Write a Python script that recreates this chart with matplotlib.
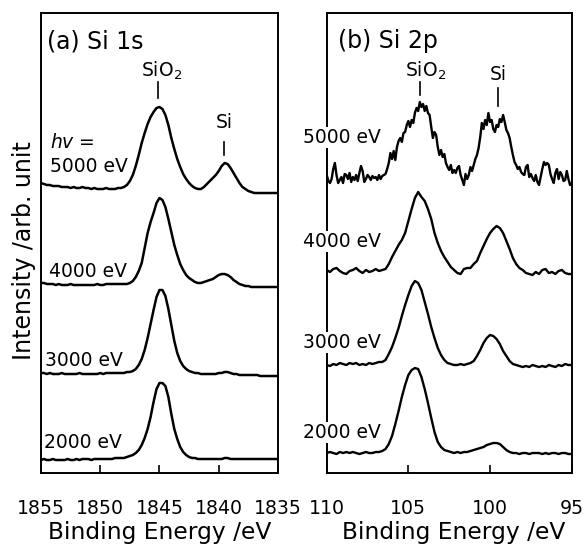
import numpy as np
import matplotlib
matplotlib.use('Agg')
import matplotlib.pyplot as plt

# photon energies (labels), top to bottom
hv_labels = ['5000 eV', '4000 eV', '3000 eV', '2000 eV']

# ---- (a) Si 1s: relative intensity,
# sampled every 0.25 eV starting at 1855 eV
si1s_start, si1s_step = 1855.0, 0.25
si1s_i = [
    [5, 4, 3, 3, 2, 2, 2, 1, 1, 1, 0, 1, 0, 0, 1, 0, 0, -1, 0, -1, -1, -1, 0, -1, -1, -1, 0, 0, 1,
     3, 7, 13, 22, 33, 45, 55, 64, 71, 76, 80, 81, 79, 73, 63, 50, 39, 29, 21, 14, 9, 5, 2, 0, -1,
     -1, 1, 4, 7, 10, 13, 17, 22, 25, 24, 20, 15, 10, 5, 1, -1, -3, -4, -5, -5, -5, -5, -5, -5, -5,
     -5, -5],
    [2, 2, 1, 1, 1, 0, 1, 0, 0, 0, 1, 0, 0, 0, 0, 0, 0, 0, 0, 1, 0, 0, 1, 1, 1, 1, 1, 1, 1, 1, 2, 4,
     8, 14, 22, 37, 52, 63, 72, 82, 87, 85, 78, 66, 53, 40, 30, 21, 15, 10, 7, 5, 3, 2, 2, 3, 4, 5,
     6, 8, 10, 11, 11, 10, 8, 5, 3, 1, 0, -1, -1, -2, -2, -2, -2, -2, -2, -2, -2, -2, -2],
    [1, 1, 0, 1, 0, 0, 0, 1, 0, 0, 0, 0, 0, 1, 0, 0, 0, 0, 0, 0, 1, 0, 1, 1, 1, 1, 1, 1, 1, 2, 2, 3,
     5, 9, 15, 24, 36, 50, 64, 77, 84, 84, 78, 65, 49, 33, 21, 13, 8, 5, 3, 2, 1, 1, 0, 0, 0, 0, 0,
     0, 1, 1, 2, 2, 1, 0, 0, -1, -1, -1, -1, -1, -1, -1, -2, -2, -2, -2, -2, -2, -2],
    [0, 1, 0, 0, 1, 0, 0, 0, 0, 1, 0, 0, 1, 0, 1, 1, 1, 0, 1, 1, 1, 1, 1, 1, 1, 2, 2, 2, 2, 3, 4, 5,
     7, 10, 15, 22, 31, 43, 58, 71, 77, 77, 74, 63, 46, 31, 21, 13, 8, 5, 3, 2, 2, 1, 1, 1, 1, 1, 1,
     1, 1, 1, 2, 2, 1, 1, 1, 1, 1, 1, 1, 1, 1, 1, 1, 1, 1, 1, 1, 1, 1],
]
si1s_offset = [285, 188, 99, 13]

# ---- (b) Si 2p: relative intensity starting at 110 eV
si2p_start = 110.0
si2p_step = [0.1, 0.2, 0.2, 0.2]
si2p_i = [
    [2, -4, -6, -2, 8, 14, 2, -6, -3, 0, -6, 3, 2, -2, 4, -5, 0, -3, 2, -4, 4, 11, 6, -5, -2, 2, 0,
     -3, 1, -1, 0, -3, 2, -2, 1, 2, 3, 8, 14, 24, 18, 26, 17, 30, 36, 39, 35, 44, 45, 52, 56, 50,
     57, 54, 64, 69, 66, 75, 70, 73, 66, 71, 64, 62, 50, 39, 45, 42, 30, 22, 27, 20, 23, 14, 10, 7,
     12, 4, 7, 4, 9, 11, 2, -3, -8, 3, -2, 2, 10, 6, 12, 18, 22, 29, 40, 54, 48, 57, 52, 64, 55, 57,
     48, 45, 52, 50, 58, 55, 62, 55, 47, 44, 39, 30, 22, 15, 12, 8, 10, 5, 3, 2, 10, 12, 0, 3, -1,
     -4, 2, -5, -8, 0, 8, 15, 12, 14, 12, 3, -2, -6, 4, 8, -2, 5, 2, -4, -3, 6, -2, -8, -6],
    [1, -1, 2, 3, 0, -2, -3, 0, 1, 3, 0, -2, 1, -1, 0, 2, 0, 1, 2, 7, 14, 20, 26, 31, 38, 50, 62,
     73, 79, 74, 70, 62, 52, 38, 28, 20, 14, 9, 4, 1, -2, -3, 2, 3, 3, 7, 10, 18, 25, 32, 38, 42,
     45, 43, 38, 30, 22, 13, 7, 3, 1, -2, -3, -4, -1, -3, 1, 2, -2, -1, -3, 0, 1, -2, -3, -3],
    [0, -1, 1, 0, 2, 1, 0, 2, 1, 2, 0, 1, 0, 2, 1, 2, 3, 3, 5, 11, 18, 27, 37, 49, 60, 70, 79, 84,
     82, 75, 63, 51, 38, 27, 17, 10, 5, 2, 1, 0, 0, 1, 0, 1, 2, 4, 9, 15, 22, 27, 30, 29, 26, 21,
     14, 9, 4, 1, 0, -1, -2, -1, -2, 0, -1, -2, -1, -2, 0, -1, -2, 0, -1, 1, 0, 0],
    [0, 1, 0, -1, 1, 0, 1, 0, 1, 0, -1, 0, 1, 0, 0, 1, 1, 2, 4, 9, 17, 29, 42, 56, 68, 78, 83, 85,
     84, 76, 64, 50, 35, 21, 11, 6, 3, 2, 1, 0, 1, 0, 1, 1, 2, 3, 4, 5, 6, 8, 9, 10, 10, 9, 6, 3, 1,
     0, 0, -1, 0, 0, -1, 0, 0, 0, -1, 0, -1, 0, 0, -1, 0, 0, -1, -1],
]
si2p_offset = [296, 202, 108, 20]

si1s_ticks = [1855, 1850, 1845, 1840, 1835]
si2p_ticks = [110, 105, 100, 95]


def setup(ax, xlim, ticks):
    ax.set_xlim(*xlim)
    ax.set_ylim(0, 460)
    ax.set_xticks(ticks)
    ax.set_yticks([])
    ax.tick_params(axis='x', direction='in', length=6, width=1.2, pad=19, labelsize=13.6)
    for s in ax.spines.values():
        s.set_linewidth(1.4)
    ax.set_xlabel('Binding Energy /eV', fontsize=16.8)


fig = plt.figure(figsize=(5.83, 5.44), dpi=100)
ax1 = fig.add_axes([0.0703, 0.1305, 0.4065, 0.8456])
ax2 = fig.add_axes([0.5604, 0.1305, 0.4202, 0.8456])

setup(ax1, (1855, 1835), si1s_ticks)
setup(ax2, (110, 95), si2p_ticks)

for i, off in zip(si1s_i, si1s_offset):
    e = si1s_start - si1s_step * np.arange(len(i))
    ax1.plot(e, np.array(i) + off, color='black', lw=1.8)
for i, st, off in zip(si2p_i, si2p_step, si2p_offset):
    e = si2p_start - st * np.arange(len(i))
    ax2.plot(e, np.array(i) + off, color='black', lw=1.7)

# panel (a) annotations
ax1.text(1854.5, 425, '(a) Si 1s', fontsize=17, va='baseline')
ax1.text(1844.85, 396, 'SiO$_2$', fontsize=13.5, ha='center', va='baseline')
ax1.plot([1845.1, 1845.1], [375, 391], color='black', lw=1.2)
ax1.text(1839.5, 345, 'Si', fontsize=13.5, ha='center', va='baseline')
ax1.plot([1839.55, 1839.55], [318, 331], color='black', lw=1.2)
ax1.text(1854.25, 325, '$hv$ =', fontsize=13.5, va='baseline')
for lab, ty, tx in zip(hv_labels, [301, 196, 107, 25], [1854.25, 1854.3, 1854.65, 1854.75]):
    ax1.text(tx, ty, lab, fontsize=13.5, va='baseline')

# panel (b) annotations
ax2.text(109.31, 425, '(b) Si 2p', fontsize=17, va='baseline')
ax2.text(103.92, 396, 'SiO$_2$', fontsize=13.5, ha='center', va='baseline')
ax2.plot([104.29, 104.29], [378, 391], color='black', lw=1.2)
ax2.text(99.51, 393, 'Si', fontsize=13.5, ha='center', va='baseline')
ax2.plot([99.51, 99.51], [367, 385], color='black', lw=1.2)
for lab, ty in zip(hv_labels, [330, 226, 125, 35]):
    ax2.text(111.45, ty, lab, fontsize=13.5, va='baseline', zorder=5,
             bbox=dict(facecolor='white', edgecolor='none', pad=0.5))

ax1.set_ylabel('Intensity /arb. unit', fontsize=17)
ax1.yaxis.set_label_coords(-0.02, 0.483)
ax1.xaxis.set_label_coords(0.5, -0.104)
ax2.xaxis.set_label_coords(0.52, -0.104)

fig.savefig('out.png', dpi=100)
